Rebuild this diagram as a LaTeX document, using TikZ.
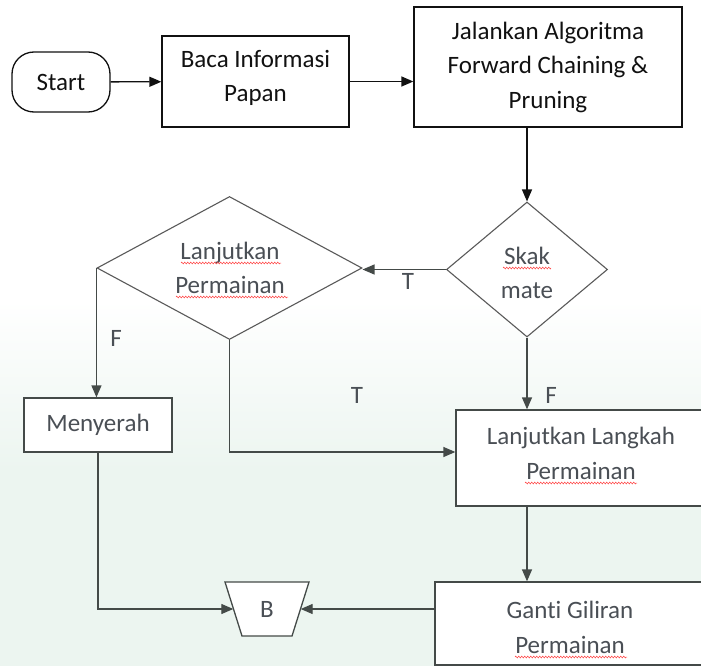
\documentclass[tikz,border=0pt]{standalone}
\usepackage{fontspec}
\setmainfont{Carlito}[Ligatures=CommonOff]
\usetikzlibrary{shapes.geometric,arrows.meta,decorations.pathmorphing}

\definecolor{topink}{HTML}{111111}
\definecolor{lineg}{HTML}{444A48}
\definecolor{diag}{HTML}{5A5A5A}
\definecolor{textg}{HTML}{4A4F55}
\definecolor{tint}{HTML}{ECF5F0}

\tikzset{
  lbl/.style={font=\fontsize{25}{34.5}\selectfont, align=center, inner sep=0pt},
  procbox/.style={lbl, draw=lineg, line width=1.3pt, fill=white, text=textg},
  topbox/.style={procbox, draw=topink, text=topink},
  decision/.style={diamond, draw=diag, line width=1.1pt, fill=white, inner sep=0pt},
  arr/.style={draw=lineg, line width=1.3pt, -{Triangle[length=12pt,width=10pt]}},
  toparr/.style={arr, draw=topink},
  squig/.style={draw=red!75, line width=0.5pt, decorate,
    decoration={zigzag, segment length=3pt, amplitude=0.9pt}},
  edgelbl/.style={lbl, text=textg}
}

\begin{document}
\begin{tikzpicture}[x=1pt, y=-1pt]
  \useasboundingbox (0,0) rectangle (701,666);
  \clip (0,0) rectangle (701,666);
  \fill[white] (0,0) rectangle (701,666);
  % faint background tint fading in towards the bottom of the sheet
  \shade[top color=white, bottom color=tint] (0,300) rectangle (701,470);
  \fill[tint] (0,470) rectangle (701,666);

  % top row
  \node[topbox, rounded corners=22pt, minimum width=98, minimum height=60] (start) at (61,82) {Start};
  \node[topbox, minimum width=187, minimum height=91] (baca) at (255.5,81.5) {};
  \node[lbl, text=topink] (bacaT) at (255.5,78) {Baca Informasi\\Papan};
  \node[topbox, minimum width=268, minimum height=120] (jalan) at (548,67) {Jalankan Algoritma\\Forward Chaining \&\\Pruning};

  % decisions
  \node[decision, minimum width=161, minimum height=135] (skak) at (527,269.5) {};
  \node[lbl, text=textg] (skakT) at (527,273) {Skak\\mate};
  \node[decision, minimum width=265, minimum height=143] (lanj) at (229.5,268) {};
  \node[lbl, text=textg] (lanjT) at (230,268) {Lanjutkan\\Permainan};

  % process boxes
  \node[procbox, minimum width=148, minimum height=54] (menyerah) at (98,425) {Menyerah};
  \node[procbox, minimum width=250, minimum height=96] (langkah) at (581,458) {};
  \node[lbl, text=textg] (langkahT) at (581,453.5) {Lanjutkan Langkah\\Permainan};
  \node[procbox, minimum width=270, minimum height=83] (ganti) at (570,623.5) {};
  \node[lbl, text=textg] (gantiT) at (570,627.5) {Ganti Giliran\\Permainan};

  % connector B
  \draw[lineg, line width=1.3pt, fill=white] (225,582) -- (309,582) -- (292,636) -- (242,636) -- cycle;
  \node[lbl, text=textg, minimum width=67, minimum height=54] (b) at (267,609) {B};

  % connectors
  \draw[toparr] (start) -- (baca);
  \draw[toparr] (baca.east) -- (baca.east -| jalan.west);
  \draw[toparr] (jalan.south -| skak.north) -- (skak.north);
  \draw[arr] (skak.west) -- (skak.west -| lanj.east);
  \draw[arr] (lanj.west) -- (lanj.west |- menyerah.north);
  \draw[arr] (lanj.south) |- ([yshift=6pt]langkah.west);
  \draw[arr] (skak.south) -- (skak.south |- langkah.north);
  \draw[arr] (langkah.south -| skak.south) -- (skak.south |- ganti.north);
  \draw[arr] (ganti.west |- b.east) -- (b.east);
  \draw[arr] (menyerah.south) |- (b.west);

  % branch labels
  \node[edgelbl] (t1) at (408,281) {T};
  \node[edgelbl] (f1) at (116,338) {F};
  \node[edgelbl] (t2) at (357,395) {T};
  \node[edgelbl] (f2) at (551,395) {F};

  % spell-check underlines
  \draw[squig] (181,263) -- (281,263);
  \draw[squig] (176,297) -- (288,297);
  \draw[squig] (503,268) -- (551,268);
  \draw[squig] (525,483) -- (637,483);
  \draw[squig] (515,657) -- (627,657);
\end{tikzpicture}
\end{document}
